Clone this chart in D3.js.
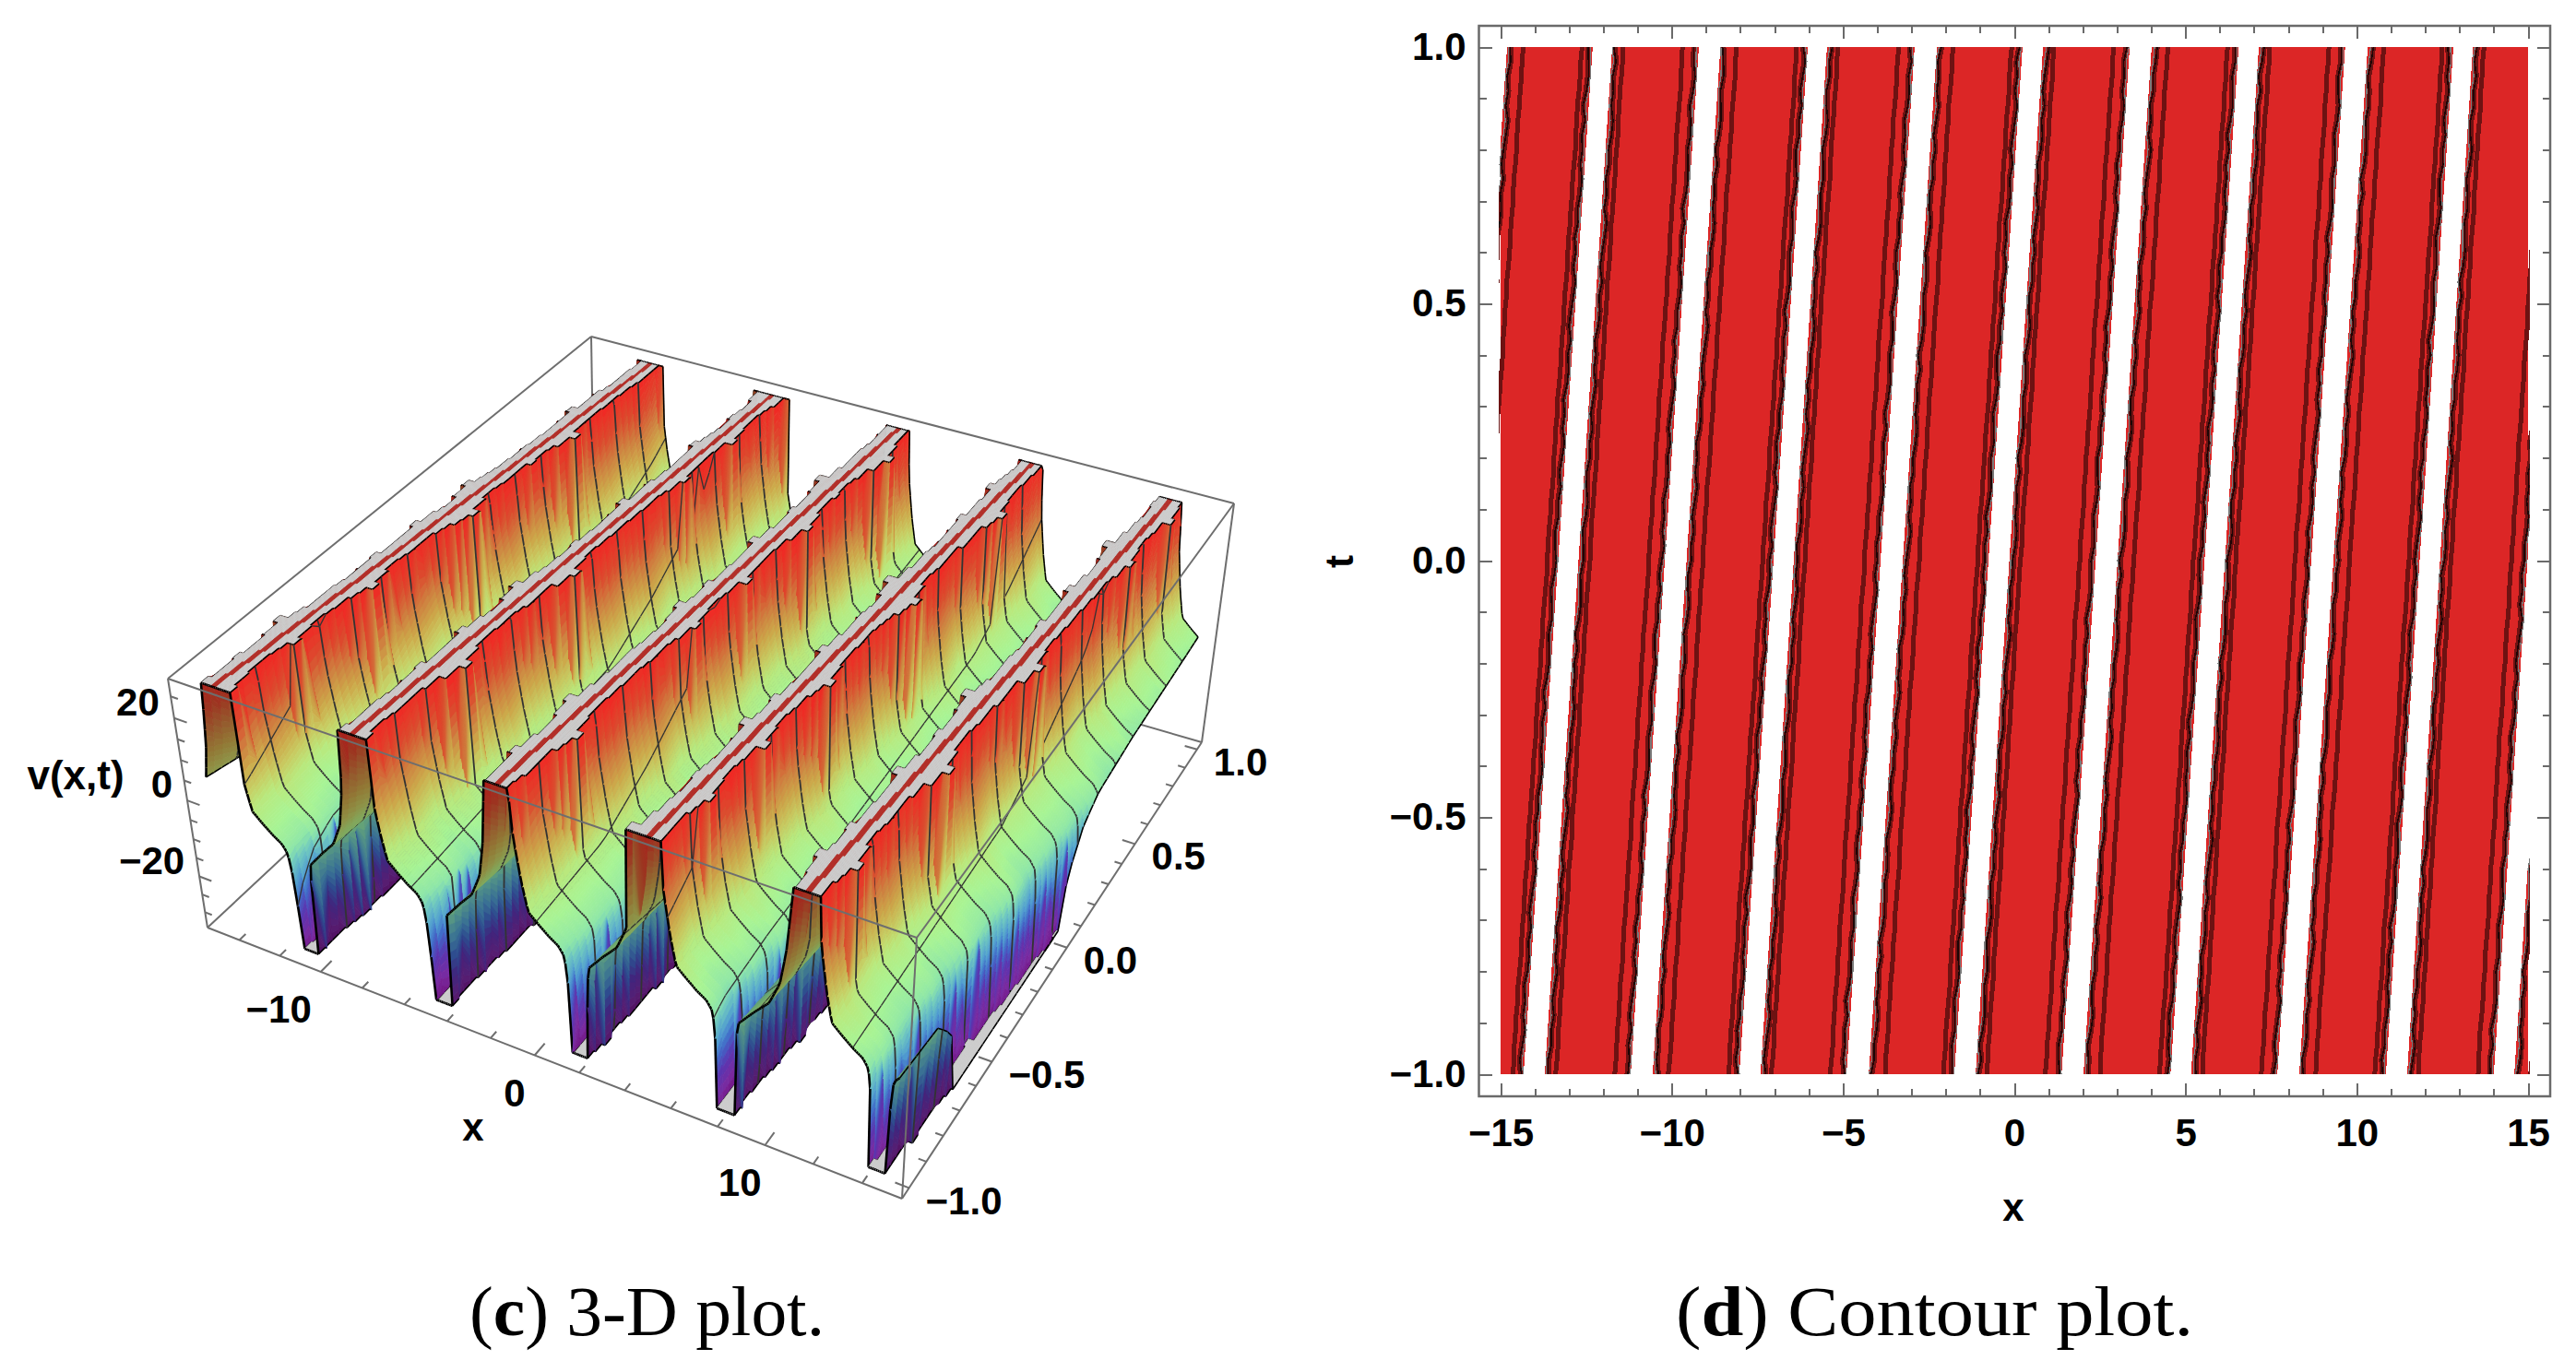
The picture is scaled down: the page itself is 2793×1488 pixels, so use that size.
<!DOCTYPE html>
<html lang="en">
<head>
<meta charset="UTF-8">
<title>3-D plot and contour plot</title>
<script src="https://d3js.org/d3.v7.min.js"></script>
<style>
    body { margin: 0; background: #fff; }
    svg { display: block; }
    .lbl { font-family: "Liberation Sans", sans-serif; font-weight: bold; font-size: 42px; fill: #000; }
    .cap { font-family: "Liberation Serif", serif; font-size: 76px; fill: #000; }
    .axis text { font-family: "Liberation Sans", sans-serif; font-weight: bold; font-size: 42px; fill: #000; }
    .axis line { stroke: #6a6a6a; stroke-width: 2px; shape-rendering: crispEdges; }
    .axis path { display: none; }
</style>
</head>
<body>
<script>
// edges of the clipped gaps (x at t=-1 and t=1)
// even index = gap below the bottom clip, odd index = gap above the top clip
const gapLeftBottom  = [-17.47, -14.33, -11.20, -8.03, -4.90, -1.75, 1.38, 4.56, 7.68, 10.85, 14.00, 17.11];
const gapRightBottom = [-16.85, -13.71, -10.56, -7.41, -4.25, -1.13, 2.02, 5.16, 8.32, 11.47, 14.60, 17.73];
const gapLeftTop     = [-15.46, -12.31, -9.21, -6.03, -2.91, 0.24, 3.37, 6.55, 9.66, 12.82, 15.97, 19.10];
const gapRightTop    = [-14.81, -11.74, -8.58, -5.47, -2.26, 0.84, 4.01, 7.14, 10.32, 13.39, 16.55, 19.70];

// profile across a sheet (fraction of the way between gaps -> v)
const fallFrac = [0, 0.05, 0.16, 0.26, 0.45, 0.63, 0.80, 0.90, 0.94, 0.97, 0.99, 1];
const fallV    = [28, 17, 7, 0.3, -2, -4, -5.5, -7.5, -11, -18, -26, -33];
const riseFrac = [0, 0.02, 0.045, 0.08, 0.37, 0.62, 0.80, 0.90, 1];
const riseV    = [-33, -24, -15, -8.5, -4, -0.5, 5, 13, 28];

// serration of the clip edges, read by eye along t
const jagFront = [0, 0, .06, 0, .14, .32, .1, 0, .05, .36, .12, 0, .04, .18, .44, .2, 0, .08, 0, .1, .34, .58, .22, 0, .05, 0, .16, .07, .28, .5, .12, 0, 0];
const jagBack  = [0, .05, .3, .08, 0, .12, .03, .22, .46, .1, 0, .04, 0, .07, .16, 0, .05, .3, .1, 0, .2, .42, .12, .02, 0, .08, .03, 0, .1, .32, .05, .14, 0];
const jagLow   = [0, .06, 0, .1, .04, 0, .14, .03, 0, .08, .18, 0, .05, .02, .12, 0, .07, .16, .02, 0, .1, 0, .05, .13, .01, 0, .09, .03, .15, 0, .06, 0, .04];

// colour shift along t, gives the streaks running down the sheets
const streak = [0, 1, -1, 2, 3, -2, 0, 4, -3, -1, 2, 0, 5, 1, -2, 0, -1, 3, 6, 1, -2, 0, 2, -3, 1, 4, 0, -1, 2, 5, -2, 0, 1];

// colours of the surface by height
const colourV = [28, 21, 15, 10, 5.5, 1.5, -3, -7, -10, -15, -19, -24, -30, -33];
const colourC = ["#f02a25", "#dc4a2e", "#cf8040", "#cda84a", "#c8cc62", "#bae87c", "#a8f494", "#8ee6a8", "#6fc8c0", "#4f9cd0", "#4068c8", "#5a35b0", "#7a2aa0", "#74198a"];

// contour line wobble in x units
const wobble = [.02, -.03, .05, .01, -.06, .03, .07, -.02, -.05, .04, -.01, .06, -.04, .02, .08, -.03, .01, -.07, .03, .05, -.02, .06, -.05, -.01, .04, .09, -.04, .02, -.06, .03, -.02, .05, .07, -.03, .01, -.05, .04, -.08, .02, .06];

// ticks
const plot3dXMajor = [-10, 0, 10];
const plot3dXMinor = [-14, -12, -8, -6, -4, -2, 2, 4, 6, 8, 12, 14];
const plot3dVMajor = [-20, 0, 20];
const plot3dVMinor = [-30, -25, -15, -10, -5, 5, 10, 15, 25];
const plot3dTMajor = [-1, -0.5, 0, 0.5, 1];
const plot3dTMinor = [-0.9, -0.8, -0.7, -0.6, -0.4, -0.3, -0.2, -0.1, 0.1, 0.2, 0.3, 0.4, 0.6, 0.7, 0.8, 0.9];
const contourXMajor = [-15, -10, -5, 0, 5, 10, 15];
const contourXMinor = [-14, -13, -12, -11, -9, -8, -7, -6, -4, -3, -2, -1, 1, 2, 3, 4, 6, 7, 8, 9, 11, 12, 13, 14];
const contourTMajor = [-1, -0.5, 0, 0.5, 1];
const contourTMinor = [-0.9, -0.8, -0.7, -0.6, -0.4, -0.3, -0.2, -0.1, 0.1, 0.2, 0.3, 0.4, 0.6, 0.7, 0.8, 0.9];

const minus = s => String(s).replace("-", "\u2212");

const svg = d3.select("body").append("svg").attr("width", 2793).attr("height", 1488);

// ---------- 3-D plot ----------
const xS = d3.scaleLinear([-15.6, 15.6], [0, 1]);
const tS = d3.scaleLinear([-1.04, 1.04], [0, 1]);
const vS = d3.scaleLinear([-34.4, 29], [0, 1]);
const warp = (s, k) => s / (s + k * (1 - s));

// box corners on screen, [x frac][t frac][v frac]
const box = {
    "000": [225, 1006], "100": [978, 1300], "010": [645, 614], "110": [1303, 805],
    "001": [182, 736], "101": [994, 1017], "011": [641, 365], "111": [1338, 546]
};
function project(x, t, v) {
    const u = warp(xS(x), 1.123), w = warp(tS(t), 0.818), h = warp(vS(v), 1.137);
    const out = [0, 0];
    for (const a of [0, 1]) for (const b of [0, 1]) for (const c of [0, 1]) {
        const f = (a ? u : 1 - u) * (b ? w : 1 - w) * (c ? h : 1 - h);
        const p = box["" + a + b + c];
        out[0] += f * p[0];
        out[1] += f * p[1];
    }
    return out;
}

const TOP = 28, LOW = -33;
const RIDGE_WIDEN = 0.2;  // the flat tops look wider in the 3-D view than the white gaps of the contour plot
const gapL = gapLeftBottom.map((d, i) => d3.scaleLinear([-1, 1], [d, gapLeftTop[i]]));
const gapR = gapRightBottom.map((d, i) => d3.scaleLinear([-1, 1], [d, gapRightTop[i]]));
const fallScale = d3.scaleLinear(fallFrac, fallV);
const riseScale = d3.scaleLinear(riseFrac, riseV);
const colour = d3.scaleLinear(colourV, colourC).clamp(true);

const nx = 400, nt = 64;
const xGrid = d3.range(nx + 1).map(i => -15 + i * 30 / nx);
const tGrid = d3.range(nt + 1).map(j => -1 + j * 2 / nt);

// straight gap edges, these set the sheet profile
function baseEdges(k, j) {
    const t = tGrid[j];
    const w = k % 2 == 1 ? RIDGE_WIDEN : 0;
    return [gapL[k](t) - w, gapR[k](t) + w];
}
// serrated edges, these only decide where the clip starts
function jagEdges(k, j) {
    const idx = Math.floor(j / 2);
    const [a, b] = baseEdges(k, j);
    if (k % 2 == 1) return [a - jagBack[(idx + k * 3) % 33], b + jagFront[(idx + k * 5) % 33]];
    return [a - jagLow[(idx + k * 2) % 33], b + jagLow[(idx + k * 7) % 33]];
}

function surface(x, j) {
    let prevR = null;
    for (let k = 0; k < gapL.length; k++) {
        const [L0, R0] = baseEdges(k, j);
        const [L, R] = jagEdges(k, j);
        if (x < L) {
            const f = (x - prevR) / (L0 - prevR);
            return k % 2 == 1 ? { v: riseScale(f), kind: "rise", k: k } : { v: fallScale(f), kind: "fall", k: k };
        }
        if (x <= R) {
            if (k % 2 == 1) {
                const b0 = gapL[k](tGrid[j]), b1 = gapR[k](tGrid[j]);
                const f = (x - b0) / (b1 - b0);
                return { v: TOP, kind: "top", stripe: f > 0.32 && f < 0.68, k: k };
            }
            return { v: LOW, kind: "low", k: k };
        }
        prevR = R0;
    }
    return { v: LOW, kind: "low", k: 0 };
}

const grid = xGrid.map(x => tGrid.map((t, j) => surface(x, j)));
const isClip = c => c.kind == "top" || c.kind == "low";
const seg = (a, b) => "M" + a.join(",") + "L" + b.join(",");

function streakAt(j, k) {
    const a = streak[(Math.floor(j / 2) + k * 5) % 33], b = streak[(Math.floor(j / 2) + 1 + k * 5) % 33];
    return j % 2 == 0 ? a : (a + b) / 2;
}

const marks = [];
for (let i = 0; i < nx; i++) {
    for (let j = nt - 1; j >= 0; j--) {
        const c00 = grid[i][j], c10 = grid[i + 1][j], c01 = grid[i][j + 1], c11 = grid[i + 1][j + 1];
        const x0 = xGrid[i], x1 = xGrid[i + 1], t0 = tGrid[j], t1 = tGrid[j + 1];
        const p00 = project(x0, t0, c00.v), p10 = project(x1, t0, c10.v);
        const p01 = project(x0, t1, c01.v), p11 = project(x1, t1, c11.v);
        const allClip = isClip(c00) && isClip(c10) && isClip(c01) && isClip(c11);
        if (allClip) {
            const fill = c00.kind == "top" && c00.stripe ? "#b3302a" : "#cccccc";
            marks.push({ d: "M" + [p00, p10, p11, p01].map(p => p.join(",")).join("L") + "Z", fill: fill, stroke: fill, w: 0.8 });
        } else {
            const sheet = [c00, c10, c01, c11].find(c => !isClip(c));
            const shift = streakAt(j, sheet.k) * 0.28;
            const vs = [c00.v, c10.v, c01.v, c11.v];
            const n = Math.min(14, Math.max(1, Math.ceil((d3.max(vs) - d3.min(vs)) / 2.5)));
            // steep cells are cut in slices so the colour still runs down the wall
            for (let s = 0; s < n; s++) {
                const a = s / n, b = (s + 1) / n;
                const mix = (l, r, f) => l + (r - l) * f;
                const q00 = project(mix(x0, x1, a), t0, mix(c00.v, c10.v, a));
                const q10 = project(mix(x0, x1, b), t0, mix(c00.v, c10.v, b));
                const q01 = project(mix(x0, x1, a), t1, mix(c01.v, c11.v, a));
                const q11 = project(mix(x0, x1, b), t1, mix(c01.v, c11.v, b));
                const vm = (mix(c00.v, c10.v, a) + mix(c00.v, c10.v, b) + mix(c01.v, c11.v, a) + mix(c01.v, c11.v, b)) / 4;
                const col = d3.color(colour(vm + shift));
                const fill = sheet.kind == "rise" ? col.darker(0.95).formatHex() : col.formatHex();
                marks.push({ d: "M" + [q00, q10, q11, q01].map(p => p.join(",")).join("L") + "Z", fill: fill, stroke: fill, w: 0.8 });
            }
        }

        // mesh lines, kept in the painter order
        if (j + 1 < nt && (j + 1) % 4 == 0 && !(isClip(c01) && isClip(c11))) {
            marks.push({ d: seg(p01, p11), fill: "none", stroke: "#333", w: 1.8 });
        }
        if (i > 0 && i % 25 == 0 && !(isClip(c00) && isClip(c01))) {
            marks.push({ d: seg(p00, p01), fill: "none", stroke: "#333", w: 1.3 });
        }
        // outlines of clip areas and of the sheet boundary
        if (!allClip) {
            if (isClip(c00) && isClip(c10)) marks.push({ d: seg(p00, p10), fill: "none", stroke: "#000", w: 1.6 });
            if (isClip(c01) && isClip(c11)) marks.push({ d: seg(p01, p11), fill: "none", stroke: "#000", w: 1.6 });
            if (isClip(c00) && isClip(c01)) marks.push({ d: seg(p00, p01), fill: "none", stroke: "#000", w: 1.6 });
            if (isClip(c10) && isClip(c11)) marks.push({ d: seg(p10, p11), fill: "none", stroke: "#000", w: 1.6 });
        }
        if (j == 0) marks.push({ d: seg(p00, p10), fill: "none", stroke: "#000", w: 2.6 });
        if (j == nt - 1) marks.push({ d: seg(p01, p11), fill: "none", stroke: "#000", w: 1.6 });
        if (i == nx - 1) marks.push({ d: seg(p10, p11), fill: "none", stroke: "#000", w: 1.6 });
        if (i == 0) marks.push({ d: seg(p00, p01), fill: "none", stroke: "#000", w: 1.6 });
    }
}

const g3d = svg.append("g");
const xMin = -15.6, xMax = 15.6, tMin = -1.04, tMax = 1.04, vMin = -34.4, vMax = 29;
const boxLine = (g, a, b) => g.append("path").attr("d", seg(project(...a), project(...b)))
    .attr("stroke", "#6e6e6e").attr("stroke-width", 2).attr("fill", "none");

// box edges behind the surface
boxLine(g3d, [xMin, tMax, vMax], [xMin, tMax, vMin]);
boxLine(g3d, [xMin, tMin, vMin], [xMin, tMax, vMin]);
boxLine(g3d, [xMin, tMax, vMin], [xMax, tMax, vMin]);

g3d.append("g").selectAll("path").data(marks).join("path")
    .attr("d", d => d.d)
    .attr("fill", d => d.fill)
    .attr("stroke", d => d.stroke)
    .attr("stroke-width", d => d.w);

// box edges in front of the surface
boxLine(g3d, [xMin, tMin, vMax], [xMin, tMax, vMax]);
boxLine(g3d, [xMin, tMax, vMax], [xMax, tMax, vMax]);
boxLine(g3d, [xMin, tMin, vMax], [xMax, tMin, vMax]);
boxLine(g3d, [xMax, tMin, vMax], [xMax, tMax, vMax]);
boxLine(g3d, [xMin, tMin, vMax], [xMin, tMin, vMin]);
boxLine(g3d, [xMax, tMin, vMax], [xMax, tMin, vMin]);
boxLine(g3d, [xMax, tMax, vMax], [xMax, tMax, vMin]);
boxLine(g3d, [xMin, tMin, vMin], [xMax, tMin, vMin]);
boxLine(g3d, [xMax, tMin, vMin], [xMax, tMax, vMin]);

// ticks on the box
plot3dXMajor.concat(plot3dXMinor).forEach(d => {
    const len = plot3dXMajor.includes(d) ? 0.05 : 0.028;
    boxLine(g3d, [d, tMin, vMin], [d, tMin + len, vMin]);
});
plot3dTMajor.concat(plot3dTMinor).forEach(d => {
    const len = plot3dTMajor.includes(d) ? 0.56 : 0.32;
    boxLine(g3d, [xMax, d, vMin], [xMax - len, d, vMin]);
});
plot3dVMajor.concat(plot3dVMinor).forEach(d => {
    const len = plot3dVMajor.includes(d) ? 0.6 : 0.34;
    boxLine(g3d, [xMin, tMin, d], [xMin + len, tMin, d]);
});

// tick labels on the box
const lab3d = (p, dx, dy, s, anchor) => g3d.append("text").attr("class", "lbl")
    .attr("x", p[0] + dx).attr("y", p[1] + dy).attr("dy", "0.36em")
    .attr("text-anchor", anchor).text(minus(s));
plot3dXMajor.forEach(d => lab3d(project(d, tMin, vMin), d == 10 ? -4 : -10, 40, d, "end"));
plot3dVMajor.forEach(d => lab3d(project(xMin, tMin, d), -16, -18, d, "end"));
plot3dTMajor.forEach(d => lab3d(project(xMax, d, vMin), 18, 13, d.toFixed(1), "start"));
g3d.append("text").attr("class", "lbl").attr("x", 513).attr("y", 1222).attr("dy", "0.36em").attr("text-anchor", "middle").text("x");
g3d.append("text").attr("class", "lbl").attr("x", 82).attr("y", 840).attr("dy", "0.36em").attr("text-anchor", "middle").style("font-size", "44px").text("v(x,t)");

// ---------- contour plot ----------
const xC = d3.scaleLinear([-15, 15], [1627, 2741]);
const tC = d3.scaleLinear([-1, 1], [1165, 51]);
const frame = { l: 1603.5, r: 2765, t: 28, b: 1189 };
const gC = svg.append("g");
const defs = svg.append("defs");
defs.append("clipPath").attr("id", "plotClip").append("rect")
    .attr("x", xC(-15)).attr("y", tC(1)).attr("width", xC(15) - xC(-15)).attr("height", tC(-1) - tC(1));
defs.append("clipPath").attr("id", "lineClip").append("rect")
    .attr("x", xC(-15) - 2).attr("y", tC(1)).attr("width", xC(15) - xC(-15) + 4).attr("height", tC(-1) - tC(1));

const bands = d3.range(gapLeftBottom.length - 1).map(k => ({
    startB: gapRightBottom[k], startT: gapRightTop[k],
    endB: gapLeftBottom[k + 1], endT: gapLeftTop[k + 1], k: k
}));

const redG = gC.append("g").attr("clip-path", "url(#plotClip)");
redG.selectAll("path").data(bands).join("path")
    .attr("shape-rendering", "crispEdges")
    .attr("fill", "#dc2626")
    .attr("d", d => "M" + [[d.startB, -1], [d.endB, -1], [d.endT, 1], [d.startT, 1]]
        .map(p => [xC(p[0]), tC(p[1])].join(",")).join("L") + "Z");

const stations = d3.range(0, 71).map(i => -1 + i * 2 / 70);
const lineGen = d3.line().x(d => xC(d[0])).y(d => tC(d[1]));
function bandLine(b0, b1, off, amp, seed) {
    const sB = d3.scaleLinear([-1, 1], [b0, b1]);
    return lineGen(stations.map((t, i) => [sB(t) + off + amp * wobble[(i + seed) % wobble.length], t]));
}
const lineG = gC.append("g").attr("clip-path", "url(#lineClip)").attr("fill", "none").attr("shape-rendering", "crispEdges");
bands.forEach(b => {
    const startInner = b.k % 2 == 1 ? 0.32 : 0.47;   // gap before the band
    const endInner = b.k % 2 == 1 ? 0.47 : 0.32;     // gap after the band
    const s = b.k * 7;
    lineG.append("path").attr("d", bandLine(b.startB, b.startT, 0.07, 0.55, s)).attr("stroke", "#7a7a7a").attr("stroke-width", 3);
    lineG.append("path").attr("d", bandLine(b.endB, b.endT, -0.07, 0.55, s + 11)).attr("stroke", "#7a7a7a").attr("stroke-width", 3);
    lineG.append("path").attr("d", bandLine(b.startB, b.startT, 0.13, 0.55, s)).attr("stroke", "#6e1212").attr("stroke-width", 5);
    lineG.append("path").attr("d", bandLine(b.endB, b.endT, -0.13, 0.55, s + 11)).attr("stroke", "#6e1212").attr("stroke-width", 5);
    lineG.append("path").attr("d", bandLine(b.startB, b.startT, 0.11, 0.8, s)).attr("stroke", "#1c0606").attr("stroke-width", 1.5);
    lineG.append("path").attr("d", bandLine(b.endB, b.endT, -0.11, 0.8, s + 11)).attr("stroke", "#1c0606").attr("stroke-width", 1.5);
    lineG.append("path").attr("d", bandLine(b.startB, b.startT, startInner, 0.2, s + 23)).attr("stroke", "#6e1212").attr("stroke-width", 5);
    lineG.append("path").attr("d", bandLine(b.endB, b.endT, -endInner, 0.2, s + 31)).attr("stroke", "#6e1212").attr("stroke-width", 5);
});

gC.append("rect").attr("x", frame.l).attr("y", frame.t).attr("width", frame.r - frame.l).attr("height", frame.b - frame.t)
    .attr("fill", "none").attr("stroke", "#6a6a6a").attr("stroke-width", 2.5);

const addAxis = (gen, dx, dy) => gC.append("g").attr("class", "axis")
    .attr("transform", "translate(" + dx + "," + dy + ")").call(gen);
const noText = () => "";
addAxis(d3.axisBottom(xC).tickValues(contourXMajor).tickSizeOuter(0).tickSize(-14).tickPadding(24).tickFormat(minus), 0, frame.b);
addAxis(d3.axisBottom(xC).tickValues(contourXMinor).tickSizeOuter(0).tickSize(-8).tickFormat(noText), 0, frame.b);
addAxis(d3.axisTop(xC).tickValues(contourXMajor).tickSizeOuter(0).tickSize(-14).tickFormat(noText), 0, frame.t);
addAxis(d3.axisTop(xC).tickValues(contourXMinor).tickSizeOuter(0).tickSize(-8).tickFormat(noText), 0, frame.t);
addAxis(d3.axisLeft(tC).tickValues(contourTMajor).tickSizeOuter(0).tickSize(-14).tickPadding(14).tickFormat(d => minus(d.toFixed(1))), frame.l, 0);
addAxis(d3.axisLeft(tC).tickValues(contourTMinor).tickSizeOuter(0).tickSize(-8).tickFormat(noText), frame.l, 0);
addAxis(d3.axisRight(tC).tickValues(contourTMajor).tickSizeOuter(0).tickSize(-14).tickFormat(noText), frame.r, 0);
addAxis(d3.axisRight(tC).tickValues(contourTMinor).tickSizeOuter(0).tickSize(-8).tickFormat(noText), frame.r, 0);

gC.append("text").attr("class", "lbl").attr("x", 2183).attr("y", 1309).attr("dy", "0.36em").attr("text-anchor", "middle").text("x");
gC.append("text").attr("class", "lbl").attr("text-anchor", "middle").attr("dy", "0.36em")
    .attr("transform", "translate(1452,609) rotate(-90)").text("t");

// captions
const cap = (x, y, len, tag, rest) => {
    const tx = svg.append("text").attr("class", "cap").attr("x", x).attr("y", y)
        .attr("textLength", len).attr("lengthAdjust", "spacingAndGlyphs");
    tx.append("tspan").text("(");
    tx.append("tspan").attr("font-weight", "bold").text(tag);
    tx.append("tspan").text(") " + rest);
};
cap(509, 1448, 385, "c", "3-D plot.");
cap(1817, 1448, 561, "d", "Contour plot.");
</script>
</body>
</html>
